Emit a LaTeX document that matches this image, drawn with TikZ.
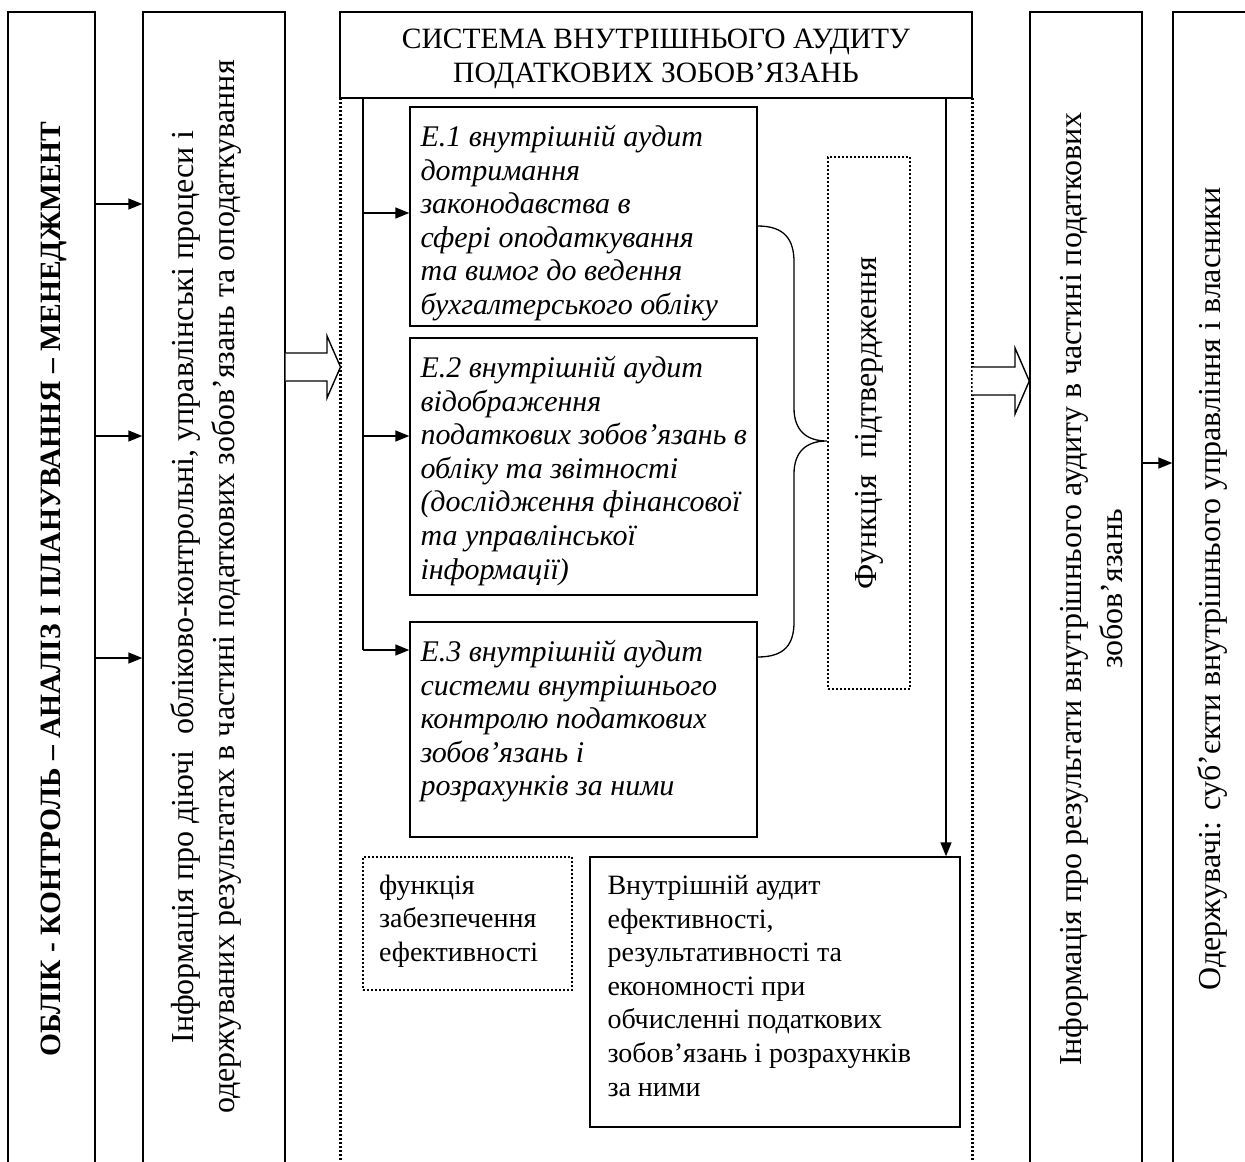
\documentclass[tikz,border=0pt]{standalone}
\usepackage{fontspec}
\setmainfont{Liberation Serif}
\usetikzlibrary{arrows.meta,calc}
\begin{document}
\begin{tikzpicture}[x=1pt,y=-1pt,
  every node/.style={font=\fontsize{28}{33.6}\selectfont},
  box/.style={draw, line width=1.4pt, rectangle, inner sep=0pt},
  dotbox/.style={draw, line width=2.2pt, dash pattern=on 2pt off 2pt, rectangle, inner sep=0pt},
  dotline/.style={line width=2.2pt, dash pattern=on 2pt off 2pt},
  solid line/.style={line width=1.4pt},
  arr/.style={line width=1.4pt, -{Triangle[length=14pt,width=11pt]}},
  hollow/.style={line width=1.4pt, fill=white},
  txt/.style={inner sep=0pt, align=left, anchor=north west},
  etxt/.style={txt, font=\fontsize{30}{33.6}\selectfont\itshape},
  vtxt/.style={inner sep=0pt, align=center, rotate=90, font=\fontsize{32}{41}\selectfont},
  brace/.style={line width=1.3pt}
]
\useasboundingbox (0,0) rectangle (1245,1162);
\clip (0,0) rectangle (1245,1162);

% outer columns (open at the bottom of the page)
\node[box, minimum width=87pt, minimum height=1170pt] (b1) at (51.5,597) {};
\node[box, minimum width=142pt, minimum height=1170pt] (b2) at (214,597) {};
\node[box, minimum width=112pt, minimum height=1170pt] (b4) at (1086,597) {};
\node[box, minimum width=90pt, minimum height=1170pt] (b5) at (1218,597) {};

% header
\node[box, minimum width=632pt, minimum height=86pt] (hd) at (656,55) {};
\node[inner sep=0pt, align=center, font=\fontsize{29.5}{33.5}\selectfont] (hdt) at ($(hd.center)+(0,4)$)
  {СИСТЕМА ВНУТРІШНЬОГО АУДИТУ\\ПОДАТКОВИХ ЗОБОВ’ЯЗАНЬ};

% dotted container
\coordinate (cl) at (340.5,98);
\coordinate (cr) at (972.5,98);
\draw[dotline] (cl) -- (cl |- 0,1170);
\draw[dotline] (cr) -- (cr |- 0,1170);

% E boxes
\node[box, minimum width=347pt, minimum height=219pt] (E1) at (583.5,216.5) {};
\node[box, minimum width=347pt, minimum height=257pt] (E2) at (583.5,466.5) {};
\node[box, minimum width=347pt, minimum height=215pt] (E3) at (583.5,729.5) {};
\node[etxt] (E1t) at ($(E1.north west)+(11,12)$)
  {\rule{0pt}{28pt}Е.1 внутрішній аудит\\дотримання\\законодавства в\\сфері оподаткування\\та вимог до ведення\\бухгалтерського обліку};
\node[etxt] (E2t) at ($(E2.north west)+(11,12)$)
  {\rule{0pt}{28pt}Е.2 внутрішній аудит\\відображення\\податкових зобов’язань в\\обліку та звітності\\(дослідження фінансової\\та управлінської\\інформації)};
\node[etxt] (E3t) at ($(E3.north west)+(11,12)$)
  {\rule{0pt}{28pt}Е.3 внутрішній аудит\\системи внутрішнього\\контролю податкових\\зобов’язань і\\розрахунків за ними};

% confirmation function box
\node[dotbox, minimum width=82pt, minimum height=532pt] (FP) at (869,423) {};
\node[inner sep=0pt, rotate=90, font=\fontsize{32}{40}\selectfont] (FPt) at (FP.center) {Функція\ \ підтвердження};

% efficiency function box
\node[dotbox, minimum width=209pt, minimum height=133pt] (FE) at (467.5,923.5) {};
\node[txt] (FEt) at ($(FE.north west)+(17,10)$)
  {\rule{0pt}{28pt}функція\\забезпечення\\ефективності};

% bottom box
\node[box, minimum width=370pt, minimum height=270pt] (BB) at (775,992) {};
\node[txt] (BBt) at ($(BB.north west)+(18,10)$)
  {\rule{0pt}{28pt}Внутрішній аудит\\ефективності,\\результативності та\\економності при\\обчисленні податкових\\зобов’язань і розрахунків\\за ними};

% vertical texts
\node[inner sep=0pt, rotate=90, font=\fontsize{29.5}{40}\selectfont\bfseries] (t1) at (54,589)
  {ОБЛІК - КОНТРОЛЬ – АНАЛІЗ І ПЛАНУВАННЯ – МЕНЕДЖМЕНТ};
\node[vtxt] (t2) at (206,587)
  {Інформація про діючі\ \ обліково-контрольні, управлінські процеси і\\одержуваних результатах в частині податкових зобов’язань та оподаткування};
\node[vtxt] (t4) at (1091,589)
  {Інформація про результати внутрішнього аудиту в частині податкових\\зобов’язань};
\node[vtxt] (t5) at (1212,589)
  {Одержувачі: суб’єкти внутрішнього управління і власники};

% arrows column 1 -> column 2
\foreach \yy in {204,436,658}
  \draw[arr] (b1.east |- 0,\yy) -- (b2.west |- 0,\yy);
% column 4 -> column 5
\draw[arr] (b4.east |- 0,463) -- (b5.west |- 0,463);

% left spine inside the system
\coordinate (sp0) at (363,98);
\coordinate (sp3) at (363,650);
\draw[solid line] (sp0) -- (sp3);
\draw[arr] (363,213) -- (E1.west |- 0,213);
\draw[arr] (363,436) -- (E2.west |- 0,436);
\draw[arr] (sp3) -- (E3.west |- sp3);

% right spine to bottom box
\coordinate (rs0) at (946,98);
\draw[arr] (rs0) -- (rs0 |- BB.north);

% brace
\draw[brace] (E1.east |- 0,226) .. controls (785,226) and (794,240) .. (794,262)
  -- (794,408) .. controls (794,430) and (806,441) .. (FP.west |- 0,441)
  .. controls (806,441) and (794,452) .. (794,474)
  -- (794,622) .. controls (794,644) and (785,657) .. (E3.east |- 0,657);

% hollow arrows
\filldraw[hollow] (b2.east |- 0,353) -- (327,353) -- (327,336) -- (cl |- 0,367) -- (327,398) -- (327,381) -- (b2.east |- 0,381);
\filldraw[hollow] (cr |- 0,367) -- (1015,367) -- (1015,348) -- (b4.west |- 0,381) -- (1015,414) -- (1015,395) -- (cr |- 0,395);
\end{tikzpicture}
\end{document}
